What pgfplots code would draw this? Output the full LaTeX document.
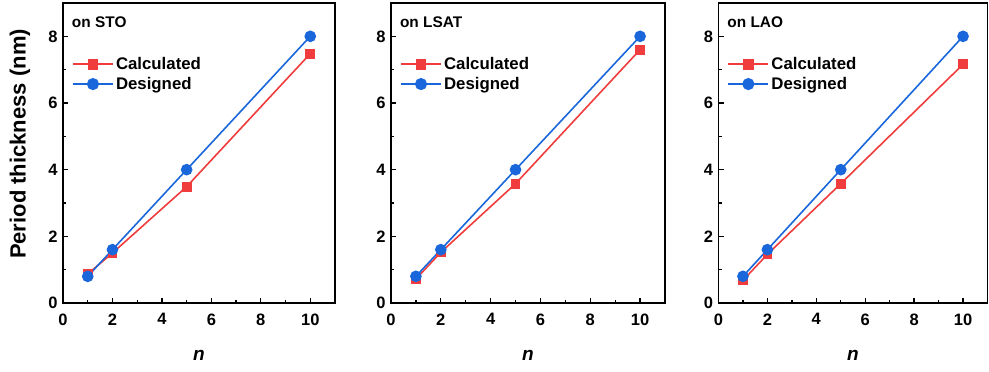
\documentclass[border=0pt]{standalone}
\usepackage{fontspec}
\setmainfont{Liberation Sans}
\usepackage{pgfplots}
\pgfplotsset{compat=1.18}
\definecolor{cred}{HTML}{F03C3C}
\definecolor{cblue}{HTML}{1A66DB}
\tikzset{tag/.style={anchor=west, font=\fontsize{15.4}{17}\selectfont\bfseries, inner sep=2pt}}
\pgfplotsset{
  panel/.style={
    scale only axis,
    anchor=south west,
    height=300pt,
    xmin=0, xmax=11, ymin=0, ymax=9,
    xtick={0,2,4,6,8,10}, ytick={0,2,4,6,8},
    minor x tick num=1, minor y tick num=1,
    tick align=inside,
    xtick pos=bottom, ytick pos=left,
    major tick length=5pt, minor tick length=3pt,
    axis line style={line width=1.6pt},
    every tick/.style={line width=1.3pt, black},
    /pgf/number format/assume math mode=true,
    ticklabel style={font=\fontsize{16.5}{18}\selectfont\bfseries},
    xticklabel style={yshift=-7pt},
    yticklabel style={xshift=-2pt},
    xlabel={\textit{n}},
    xlabel style={font=\fontsize{19}{21}\selectfont\bfseries, at={(axis description cs:0.5,-0.175)}, anchor=center},
    legend style={draw=none, fill=none, at={(rel axis cs:0.032,0.8255)}, anchor=north west,
      font=\fontsize{16.8}{19}\selectfont\bfseries, row sep=2pt, inner sep=0pt,
      /tikz/every even column/.append style={column sep=2pt}},
    legend cell align=left,
    legend image code/.code={\draw[line width=2.1pt, mark repeat=2,mark phase=2] plot coordinates {(0pt,0pt)(20pt,0pt)(40pt,0pt)};},
  },
}
\begin{document}
\begin{tikzpicture}
\useasboundingbox (0pt,0pt) rectangle (989pt,372pt);
% Panel 1
\begin{axis}[panel, at={(63pt,69pt)}, width=272pt,
  ylabel={Period thickness (nm)},
  ylabel style={font=\fontsize{22}{24}\selectfont\bfseries, at={(axis description cs:-0.158,0.53)}, anchor=center, rotate=0}]
\addplot[color=cred, line width=1.6pt, mark=square*, mark size=4.1pt] coordinates {(1,0.87) (2,1.50) (5,3.49) (10,7.48)};
\addlegendentry{Calculated}
\addplot[color=cblue, line width=1.6pt, mark=*, mark size=5pt] coordinates {(1,0.8) (2,1.6) (5,4.0) (10,8.0)};
\addlegendentry{Designed}
\node[tag] at (rel axis cs:0.025,0.935) {on STO};
\end{axis}
% Panel 2
\begin{axis}[panel, at={(391pt,69pt)}, width=274pt]
\addplot[color=cred, line width=1.6pt, mark=square*, mark size=4.1pt] coordinates {(1,0.72) (2,1.52) (5,3.58) (10,7.60)};
\addlegendentry{Calculated}
\addplot[color=cblue, line width=1.6pt, mark=*, mark size=5pt] coordinates {(1,0.8) (2,1.6) (5,4.0) (10,8.0)};
\addlegendentry{Designed}
\node[tag] at (rel axis cs:0.025,0.935) {on LSAT};
\end{axis}
% Panel 3
\begin{axis}[panel, at={(718.5pt,69pt)}, width=269pt]
\addplot[color=cred, line width=1.6pt, mark=square*, mark size=4.1pt] coordinates {(1,0.68) (2,1.46) (5,3.58) (10,7.16)};
\addlegendentry{Calculated}
\addplot[color=cblue, line width=1.6pt, mark=*, mark size=5pt] coordinates {(1,0.8) (2,1.6) (5,4.0) (10,8.0)};
\addlegendentry{Designed}
\node[tag] at (rel axis cs:0.025,0.935) {on LAO};
\end{axis}
\end{tikzpicture}
\end{document}
